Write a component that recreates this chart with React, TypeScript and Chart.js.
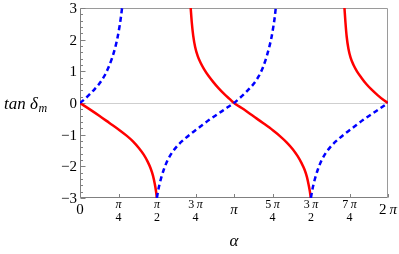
import React, { useEffect, useRef } from "react";
import { Chart, registerables } from "chart.js";

Chart.register(...registerables);

// α values (radians) and tan δm values
const redAX = [0, 0.2, 0.4, 0.6, 0.8, 0.95, 1.08, 1.2, 1.3, 1.38, 1.44, 1.49, 1.525, 1.55, 1.568];
const redAY = [0, -0.2, -0.41, -0.63, -0.85, -1.03, -1.21, -1.42, -1.63, -1.85, -2.06, -2.3, -2.55, -2.78, -3.0];

const redBX = [2.258, 2.28, 2.31, 2.35, 2.4, 2.46, 2.53, 2.62, 2.72, 2.83, 2.95, 3.05, 3.1416,
  3.34, 3.54, 3.74, 3.94, 4.09, 4.22, 4.34, 4.44, 4.52, 4.58, 4.63, 4.665, 4.69, 4.708];
const redBY = [3.0, 2.55, 2.12, 1.76, 1.49, 1.27, 1.07, 0.86, 0.66, 0.46, 0.27, 0.13, 0,
  -0.2, -0.42, -0.64, -0.87, -1.06, -1.25, -1.46, -1.68, -1.9, -2.1, -2.34, -2.59, -2.8, -3.0];

const redCX = [5.395, 5.415, 5.44, 5.475, 5.52, 5.58, 5.65, 5.74, 5.84, 5.95, 6.07, 6.18, 6.2832];
const redCY = [3.0, 2.55, 2.1, 1.72, 1.43, 1.2, 1.0, 0.8, 0.6, 0.42, 0.25, 0.11, 0];

const blueAX = [0, 0.1, 0.2, 0.3, 0.4, 0.5, 0.58, 0.65, 0.72, 0.77, 0.81, 0.838, 0.858];
const blueAY = [0, 0.13, 0.28, 0.44, 0.62, 0.86, 1.12, 1.4, 1.76, 2.1, 2.45, 2.75, 3.0];

const blueBX = [1.568, 1.6, 1.65, 1.71, 1.79, 1.89, 2.0, 2.13, 2.28, 2.45, 2.63, 2.82, 2.98, 3.1416,
  3.24, 3.34, 3.44, 3.54, 3.64, 3.72, 3.79, 3.86, 3.91, 3.945, 3.972, 3.993];
const blueBY = [-3.0, -2.72, -2.4, -2.1, -1.8, -1.54, -1.33, -1.14, -0.95, -0.75, -0.54, -0.34, -0.17, 0,
  0.13, 0.27, 0.43, 0.6, 0.83, 1.08, 1.38, 1.76, 2.1, 2.42, 2.7, 3.0];

const blueCX = [4.71, 4.742, 4.792, 4.852, 4.932, 5.032, 5.142, 5.272, 5.422, 5.592, 5.772, 5.962, 6.122, 6.2832];
const blueCY = [-3.0, -2.72, -2.4, -2.1, -1.8, -1.54, -1.33, -1.14, -0.95, -0.75, -0.54, -0.34, -0.17, 0];

const yTickValues = [-3, -2, -1, 0, 1, 2, 3];
const yTickLabels = ["\u22123", "\u22122", "\u22121", "0", "1", "2", "3"];
const xTickSteps = [0, 1, 2, 3, 4, 5, 6, 7, 8]; // multiples of π/4
const xTickNum = ["0", "\u03c0", "\u03c0", "3 \u03c0", "\u03c0", "5 \u03c0", "3 \u03c0", "7 \u03c0", "2 \u03c0"];
const xTickDen = ["", "4", "2", "4", "", "4", "2", "4", ""];

const pts = (xs: number[], ys: number[]) => xs.map((x, i) => ({ x, y: ys[i] }));

const SERIF = '"Liberation Serif", "Times New Roman", serif';

function drawMixed(ctx: CanvasRenderingContext2D, text: string, cx: number, cy: number, size: number) {
  const parts = text.split(" ").filter(Boolean);
  const fonts = parts.map((p) => (p === "\u03c0" ? `italic ${size}px ${SERIF}` : `${size}px ${SERIF}`));
  const gap = size * 0.2;
  const widths = parts.map((p, i) => { ctx.font = fonts[i]; return ctx.measureText(p).width; });
  const total = widths.reduce((a, b) => a + b, 0) + gap * (parts.length - 1);
  let x = cx - total / 2;
  parts.forEach((p, i) => {
    ctx.font = fonts[i];
    ctx.textAlign = "left";
    ctx.textBaseline = "middle";
    ctx.fillText(p, x, cy);
    x += widths[i] + gap;
  });
}

const deco = {
  id: "deco",
  beforeDatasetsDraw(chart: any) {
    const { ctx, chartArea, scales } = chart;
    const { left, right, top, bottom } = chartArea;
    const ys = scales.y;
    const xs = scales.x;
    ctx.save();
    const y0 = Math.round(ys.getPixelForValue(0)) + 0.5;
    ctx.strokeStyle = "#cfcfcf";
    ctx.lineWidth = 1;
    ctx.beginPath(); ctx.moveTo(left, y0); ctx.lineTo(right, y0); ctx.stroke();

    const L = Math.round(left) + 0.5, R = Math.round(right) - 0.5;
    const T = Math.round(top) + 0.5, B = Math.round(bottom) - 0.5;
    ctx.strokeStyle = "#9a9a9a";
    ctx.beginPath(); ctx.moveTo(L, T); ctx.lineTo(R, T); ctx.lineTo(R, B); ctx.stroke();
    ctx.strokeStyle = "#808080";
    ctx.beginPath(); ctx.moveTo(L, T); ctx.lineTo(L, B); ctx.lineTo(R, B); ctx.stroke();

    for (let v = -3; v <= 3.0001; v += 0.2) {
      const major = Math.abs(v - Math.round(v)) < 1e-6;
      const py = Math.round(ys.getPixelForValue(v)) + 0.5;
      ctx.beginPath(); ctx.moveTo(L, py); ctx.lineTo(L + (major ? 5 : 2.5), py); ctx.stroke();
    }
    xTickSteps.forEach((k) => {
      const px = Math.round(xs.getPixelForValue((k * Math.PI) / 4)) + 0.5;
      ctx.beginPath(); ctx.moveTo(px, B); ctx.lineTo(px, B - 3.5); ctx.stroke();
    });
    ctx.restore();
  },
  afterDraw(chart: any) {
    const { ctx, chartArea, scales } = chart;
    const { left, bottom } = chartArea;
    const ys = scales.y;
    const xs = scales.x;
    ctx.save();
    ctx.fillStyle = "#000";
    ctx.font = `15px ${SERIF}`;
    ctx.textAlign = "right";
    ctx.textBaseline = "middle";
    yTickValues.forEach((v, i) => {
      ctx.fillText(yTickLabels[i], left - 3, ys.getPixelForValue(v) + 1);
    });
    xTickSteps.forEach((k, i) => {
      const px = xs.getPixelForValue((k * Math.PI) / 4);
      if (xTickDen[i] === "") {
        drawMixed(ctx, xTickNum[i], px, bottom + 12, 15);
      } else {
        drawMixed(ctx, xTickNum[i], px, bottom + 7, 12);
        drawMixed(ctx, xTickDen[i], px, bottom + 20, 12);
      }
    });
    ctx.font = `italic 17px ${SERIF}`;
    ctx.textAlign = "center";
    ctx.textBaseline = "middle";
    ctx.fillText("\u03b1", (chartArea.left + chartArea.right) / 2, bottom + 44);
    const by = ys.getPixelForValue(0) + 6;
    ctx.textAlign = "left";
    ctx.textBaseline = "alphabetic";
    ctx.font = `italic 17px ${SERIF}`;
    const main = "tan \u03b4";
    ctx.fillText(main, 4, by);
    const w = ctx.measureText(main).width;
    ctx.font = `italic 12px ${SERIF}`;
    ctx.fillText("m", 4 + w + 0.5, by + 3);
    ctx.restore();
  },
};

export default function App() {
  const ref = useRef<HTMLCanvasElement | null>(null);
  useEffect(() => {
    document.body.style.margin = "0";
    const canvas = ref.current!;
    const blue = (xs: number[], ys: number[]) => ({
      data: pts(xs, ys),
      borderColor: "#0000ff",
      borderWidth: 2.5,
      borderDash: [5, 3.5],
      pointRadius: 0,
      fill: false,
      cubicInterpolationMode: "monotone" as const,
    });
    const red = (xs: number[], ys: number[]) => ({
      data: pts(xs, ys),
      borderColor: "#ff0000",
      borderWidth: 2.5,
      pointRadius: 0,
      fill: false,
      cubicInterpolationMode: "monotone" as const,
    });
    const chart = new Chart(canvas, {
      type: "line",
      data: {
        datasets: [
          blue(blueAX, blueAY),
          blue(blueBX, blueBY),
          blue(blueCX, blueCY),
          red(redAX, redAY),
          red(redBX, redBY),
          red(redCX, redCY),
        ] as any,
      },
      options: {
        animation: false,
        responsive: false,
        devicePixelRatio: 1,
        layout: { padding: { left: 80, right: 11, top: 8, bottom: 56 } },
        plugins: { legend: { display: false }, tooltip: { enabled: false } },
        scales: {
          x: { type: "linear", min: 0, max: 2 * Math.PI, display: false },
          y: { type: "linear", min: -3, max: 3, display: false },
        },
      },
      plugins: [deco],
    });
    return () => chart.destroy();
  }, []);
  return (
    <div style={{ width: 399, height: 254, background: "#fff" }}>
      <canvas ref={ref} width={399} height={254} style={{ display: "block" }} />
    </div>
  );
}
